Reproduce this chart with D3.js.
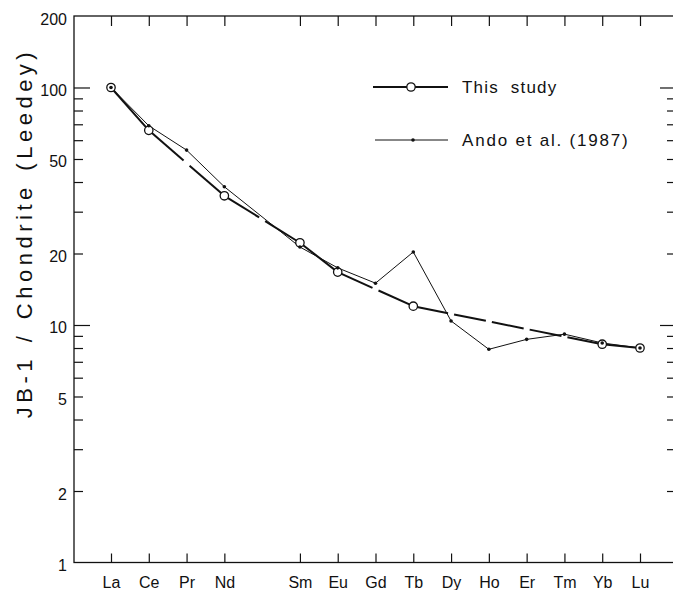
<html>
<head>
<style>
  body { margin: 0; background: #fff; }
  svg text { font-family: "Liberation Sans", Arial, sans-serif; fill: #111; }
  .axis path.domain { display: none; }
  .axis line { stroke: #111; stroke-width: 1.2; }
</style>
</head>
<body>
<div class="chart"></div>

<script src="https://cdnjs.cloudflare.com/ajax/libs/d3/7.8.5/d3.min.js"></script>
<script type="text/javascript">

// rare earth elements, Pm left as an empty slot
var elements = ["La", "Ce", "Pr", "Nd", "Pm", "Sm", "Eu", "Gd", "Tb", "Dy", "Ho", "Er", "Tm", "Yb", "Lu"];
var thisStudy = [100, 66, null, 35, null, 22.2, 16.7, null, 12.0, null, null, null, null, 8.3, 8.0];
var ando1987 = [100, 69, 54.5, 38.2, null, 21.3, 17.4, 15.0, 20.3, 10.4, 7.9, 8.7, 9.15, 8.4, 8.0];
var yLabels = [1, 2, 5, 10, 20, 50, 100, 200];
var yMajor = [10, 100];
var yMinor = [2, 3, 4, 5, 6, 7, 8, 9, 20, 30, 40, 50, 60, 70, 80, 90];

var margin = {top: 16, left: 74},
    width = 602,
    height = 546.5;

var svg = d3.select(".chart").append("svg")
    .attr("width", 673)
    .attr("height", 590);

var g = svg.append("g")
    .attr("transform", "translate(" + margin.left + "," + margin.top + ")");

var x = d3.scalePoint()
    .domain(elements)
    .range([37, 566]);
var y = d3.scaleLog()
    .domain([1, 200])
    .range([height, 0]);

var shown = elements.filter(function(d) { return d != "Pm"; });

// frame
g.append("rect")
    .attr("width", width)
    .attr("height", height)
    .attr("fill", "none")
    .attr("stroke", "#111")
    .attr("stroke-width", 1.3);

// ticks, all pointing inward
g.append("g").attr("class", "axis")
    .call(d3.axisLeft(y).tickValues(yMinor).tickSize(-9).tickFormat(""));
g.append("g").attr("class", "axis")
    .call(d3.axisLeft(y).tickValues(yMajor).tickSize(-16).tickFormat(""));
g.append("g").attr("class", "axis")
    .attr("transform", "translate(" + width + ",0)")
    .call(d3.axisRight(y).tickValues(yMinor).tickSize(-9).tickFormat(""));
g.append("g").attr("class", "axis")
    .attr("transform", "translate(" + width + ",0)")
    .call(d3.axisRight(y).tickValues(yMajor).tickSize(-16).tickFormat(""));
g.append("g").attr("class", "axis")
    .call(d3.axisTop(x).tickValues(shown).tickSize(-10).tickFormat(""));

var yAxis = g.append("g").attr("class", "axis")
    .call(d3.axisLeft(y).tickValues(yLabels).tickSize(0).tickPadding(7).tickFormat(d3.format("d")));
yAxis.selectAll("text")
    .attr("dy", "0.5em")
    .style("font-size", "16px");

var xAxis = g.append("g").attr("class", "axis")
    .attr("transform", "translate(0," + height + ")")
    .call(d3.axisBottom(x).tickValues(shown).tickSize(-9).tickPadding(14));
xAxis.selectAll("text")
    .style("font-size", "16px");

// y axis title
svg.append("text")
    .attr("transform", "translate(32,233) rotate(-90)")
    .attr("text-anchor", "middle")
    .style("font-size", "22px")
    .style("letter-spacing", "4.5px")
    .style("word-spacing", "2px")
    .text("JB-1 / Chondrite (Leedey)");

// this study: straight segments between measured points, broken where an element is missing
var gap = 6;
var known = [];
thisStudy.forEach(function(v, i) { if (v != null) known.push(i); });
var pieces = [];
for (var k = 0; k < known.length - 1; k++) {
    var i0 = known[k], i1 = known[k + 1];
    var x0 = x(elements[i0]), y0 = y(thisStudy[i0]);
    var x1 = x(elements[i1]), y1 = y(thisStudy[i1]);
    var at = function(xx) { return y0 + (y1 - y0) * (xx - x0) / (x1 - x0); };
    var start = x0;
    for (var m = i0 + 1; m < i1; m++) {
        var c = x(elements[m]);
        pieces.push([start, at(start), c - gap / 2, at(c - gap / 2)]);
        start = c + gap / 2;
    }
    pieces.push([start, at(start), x1, y1]);
}

g.selectAll(".study-seg")
    .data(pieces)
    .enter().append("line")
    .attr("class", "study-seg")
    .attr("x1", function(d) { return d[0]; })
    .attr("y1", function(d) { return d[1]; })
    .attr("x2", function(d) { return d[2]; })
    .attr("y2", function(d) { return d[3]; })
    .attr("stroke", "#111")
    .attr("stroke-width", 2);

// Ando et al. line (Pm gap bridged)
var andoPts = elements.map(function(e, i) { return {e: e, v: ando1987[i]}; })
    .filter(function(d) { return d.v != null; });

g.append("path")
    .datum(andoPts)
    .attr("fill", "none")
    .attr("stroke", "#111")
    .attr("stroke-width", 1)
    .attr("d", d3.line()
        .x(function(d) { return x(d.e); })
        .y(function(d) { return y(d.v); }));

var studyPts = elements.map(function(e, i) { return {e: e, v: thisStudy[i]}; })
    .filter(function(d) { return d.v != null; });

g.selectAll(".study-pt")
    .data(studyPts)
    .enter().append("circle")
    .attr("class", "study-pt")
    .attr("cx", function(d) { return x(d.e); })
    .attr("cy", function(d) { return y(d.v); })
    .attr("r", 4.2)
    .attr("fill", "#fff")
    .attr("stroke", "#111")
    .attr("stroke-width", 1.3);

g.selectAll(".ando-pt")
    .data(andoPts)
    .enter().append("circle")
    .attr("class", "ando-pt")
    .attr("cx", function(d) { return x(d.e); })
    .attr("cy", function(d) { return y(d.v); })
    .attr("r", 1.8)
    .attr("fill", "#111");

// legend
var leg = svg.append("g");
leg.append("line")
    .attr("x1", 373).attr("x2", 448).attr("y1", 87).attr("y2", 87)
    .attr("stroke", "#111").attr("stroke-width", 2);
leg.append("circle")
    .attr("cx", 411).attr("cy", 87).attr("r", 4.2)
    .attr("fill", "#fff").attr("stroke", "#111").attr("stroke-width", 1.3);
leg.append("text")
    .attr("x", 462).attr("y", 93)
    .style("font-size", "17px")
    .style("letter-spacing", "1.2px")
    .style("word-spacing", "6px")
    .text("This study");

leg.append("line")
    .attr("x1", 375).attr("x2", 448).attr("y1", 140).attr("y2", 140)
    .attr("stroke", "#111").attr("stroke-width", 1);
leg.append("circle")
    .attr("cx", 413).attr("cy", 140).attr("r", 1.8)
    .attr("fill", "#111");
leg.append("text")
    .attr("x", 462).attr("y", 146)
    .style("font-size", "17px")
    .style("letter-spacing", "1.8px")
    .text("Ando et al. (1987)");

</script>
</body>
</html>
